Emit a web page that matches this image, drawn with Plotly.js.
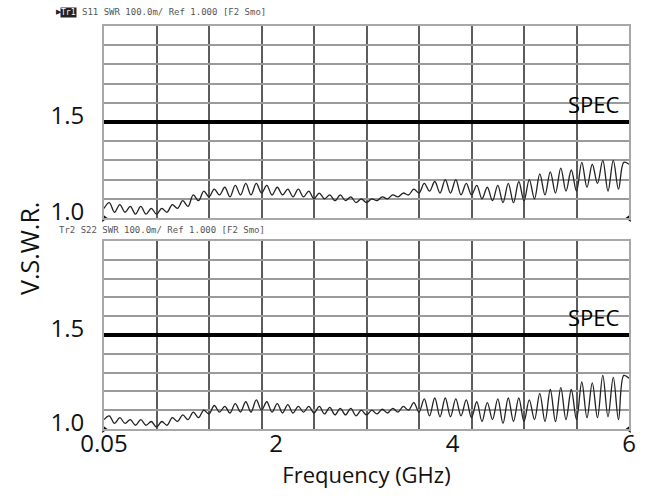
<!DOCTYPE html>
<html>
<head>
<meta charset="utf-8">
<script src="https://cdn.plot.ly/plotly-3.0.1.min.js"></script>
<style>html,body{margin:0;padding:0;background:#fff;}#chart{width:650px;height:500px;}</style>
</head>
<body>
<div id="chart"></div>
<script>
// Sweep frequencies (GHz) (0.05 - 6 GHz, 10 divisions)
const freqGHz = [0.050,0.110,0.169,0.229,0.288,0.348,0.407,0.467,0.526,0.586,
  0.645,0.705,0.764,0.824,0.883,0.943,1.002,1.062,1.121,1.181,
  1.240,1.300,1.359,1.419,1.478,1.538,1.597,1.657,1.716,1.776,
  1.835,1.895,1.954,2.014,2.073,2.133,2.192,2.252,2.311,2.371,
  2.430,2.490,2.549,2.609,2.668,2.728,2.787,2.847,2.906,2.966,
  3.025,3.085,3.144,3.204,3.263,3.323,3.382,3.442,3.501,3.561,
  3.620,3.680,3.739,3.799,3.858,3.918,3.977,4.037,4.096,4.156,
  4.215,4.275,4.334,4.394,4.453,4.513,4.572,4.632,4.691,4.751,
  4.810,4.870,4.929,4.989,5.048,5.108,5.167,5.227,5.286,5.346,
  5.405,5.465,5.524,5.584,5.643,5.703,5.762,5.822,5.881,5.941,6.000];

// S11 VSWR (upper trace)
const vswrS11 = [1.05,1.08,1.03,1.07,1.03,1.06,1.02,1.06,1.02,1.05,
  1.02,1.05,1.03,1.07,1.05,1.09,1.06,1.12,1.09,1.14,
  1.11,1.15,1.12,1.16,1.11,1.17,1.12,1.18,1.12,1.18,
  1.13,1.17,1.12,1.16,1.12,1.15,1.11,1.15,1.11,1.14,
  1.10,1.13,1.10,1.12,1.09,1.12,1.09,1.11,1.08,1.10,
  1.08,1.10,1.09,1.11,1.10,1.12,1.11,1.13,1.12,1.15,
  1.13,1.18,1.14,1.19,1.13,1.20,1.13,1.20,1.12,1.18,
  1.12,1.17,1.10,1.16,1.09,1.17,1.08,1.18,1.08,1.19,
  1.09,1.20,1.10,1.23,1.12,1.24,1.13,1.26,1.14,1.25,
  1.14,1.29,1.16,1.28,1.18,1.30,1.14,1.30,1.15,1.29,1.28];

// S22 VSWR (lower trace)
const vswrS22 = [1.05,1.07,1.03,1.06,1.03,1.05,1.02,1.05,1.02,1.04,
  1.01,1.04,1.02,1.06,1.04,1.075,1.05,1.09,1.06,1.10,
  1.08,1.125,1.09,1.12,1.085,1.135,1.09,1.145,1.09,1.155,
  1.10,1.145,1.09,1.135,1.085,1.13,1.085,1.12,1.09,1.12,
  1.085,1.12,1.08,1.115,1.075,1.11,1.075,1.11,1.07,1.10,
  1.075,1.10,1.08,1.105,1.085,1.11,1.09,1.12,1.10,1.14,
  1.09,1.16,1.07,1.165,1.065,1.165,1.065,1.16,1.07,1.155,
  1.06,1.145,1.04,1.14,1.05,1.16,1.03,1.165,1.04,1.165,
  1.04,1.155,1.05,1.19,1.04,1.21,1.04,1.22,1.05,1.21,
  1.05,1.25,1.06,1.245,1.06,1.285,1.065,1.275,1.05,1.285,1.27];

// Spec limit
const specFreq = [0.05, 6];
const specLimit = 1.5;

// Sweep start / stop reference markers (reference level 1.000)
const sweepMarkFreq = [0.05, 6];
const refLevel = 1.0;

// Axis labels
const xTickVals = [0.05, 2, 4, 6];
const xTickText = ['0.05', '2', '4', '6'];
const yTickVals = [1.0, 1.5];
const yTickText = ['1.0', '1.5'];
const header1 = 'S11 SWR 100.0m/ Ref 1.000 [F2 Smo]';
const header2 = 'Tr2 S22 SWR 100.0m/ Ref 1.000 [F2 Smo]';

const FONT = 'Open Sans, Noto Sans, sans-serif';
const traceStyle = {color: '#222', width: 1.3, shape: 'spline', smoothing: 1};
const specStyle = {color: '#000', width: 4};
const refMarker = {symbol: ['triangle-right', 'triangle-left'], size: 7, color: '#111'};

const data = [
  {x: freqGHz, y: vswrS11, xaxis: 'x', yaxis: 'y', mode: 'lines', line: traceStyle, hoverinfo: 'skip'},
  {x: specFreq, y: specFreq.map(() => specLimit), xaxis: 'x', yaxis: 'y', mode: 'lines', line: specStyle, cliponaxis: false},
  {x: sweepMarkFreq, y: sweepMarkFreq.map(() => refLevel), xaxis: 'x', yaxis: 'y', mode: 'markers', marker: refMarker, cliponaxis: false},
  {x: freqGHz, y: vswrS22, xaxis: 'x2', yaxis: 'y2', mode: 'lines', line: traceStyle, hoverinfo: 'skip'},
  {x: specFreq, y: specFreq.map(() => specLimit), xaxis: 'x2', yaxis: 'y2', mode: 'lines', line: specStyle, cliponaxis: false},
  {x: sweepMarkFreq, y: sweepMarkFreq.map(() => refLevel), xaxis: 'x2', yaxis: 'y2', mode: 'markers', marker: refMarker, cliponaxis: false}
];

const xMinor = {tickmode: 'linear', tick0: 0.05, dtick: 0.595, showgrid: true, gridcolor: '#5c5c5c', gridwidth: 2, ticks: ''};
const yMinor = {tickmode: 'linear', tick0: 1.0, dtick: 0.1, showgrid: true, gridcolor: '#9a9a9a', gridwidth: 2, ticks: ''};

function xAx(showLabels, anchor) {
  return {
    range: [0.05, 6], anchor: anchor, showgrid: false, zeroline: false,
    tickmode: 'array', tickvals: xTickVals, ticktext: xTickText,
    showticklabels: showLabels, ticks: '', ticklabelstandoff: -8,
    tickfont: {family: FONT, size: 24, color: '#111'},
    showline: true, mirror: true, linecolor: '#a8a8a8', linewidth: 2,
    minor: xMinor
  };
}
function yAx(domain, anchor) {
  return {
    range: [1.0, 2.0], domain: domain, anchor: anchor, showgrid: false, zeroline: false,
    tickmode: 'array', tickvals: yTickVals, ticktext: yTickText,
    ticks: '', ticklabelstandoff: 13, ticklabelshift: -6,
    tickfont: {family: FONT, size: 24, color: '#111'},
    showline: true, mirror: true, linecolor: '#a8a8a8', linewidth: 2,
    minor: yMinor
  };
}

const layout = {
  width: 650, height: 500,
  margin: {l: 104, r: 21, t: 26, b: 71},
  paper_bgcolor: '#fff', plot_bgcolor: '#fff',
  showlegend: false,
  xaxis: Object.assign(xAx(false, 'y'), {matches: 'x2'}),
  xaxis2: Object.assign(xAx(true, 'y2'), {
    title: {text: 'Frequency (GHz)', font: {family: FONT, size: 22, color: '#111'}, standoff: 2}
  }),
  yaxis: yAx([0.5236, 1], 'x'),
  yaxis2: yAx([0, 0.4665], 'x2'),
  annotations: [
    {xref: 'paper', yref: 'paper', x: -0.143, y: 0.449, xanchor: 'center', yanchor: 'middle',
     text: 'V.S.W.R.', textangle: -90,
     showarrow: false, font: {family: FONT, size: 25, color: '#111'}},
    {xref: 'x domain', yref: 'y', x: 0.987, y: specLimit, xanchor: 'right', yanchor: 'bottom', yshift: 1,
     text: 'SPEC', showarrow: false, font: {family: FONT, size: 22, color: '#000'}},
    {xref: 'x2 domain', yref: 'y2', x: 0.987, y: specLimit, xanchor: 'right', yanchor: 'bottom', yshift: 1,
     text: 'SPEC', showarrow: false, font: {family: FONT, size: 22, color: '#000'}},
    // instrument header lines
    {xref: 'paper', yref: 'paper', x: -0.096, y: 1.0, yshift: 14, xanchor: 'left', yanchor: 'middle',
     text: '▶', showarrow: false, font: {family: 'DejaVu Sans', size: 7, color: '#222'}},
    {xref: 'paper', yref: 'paper', x: -0.083, y: 1.0, yshift: 14, xanchor: 'left', yanchor: 'middle',
     text: 'Tr1', showarrow: false, bgcolor: '#222', borderpad: 0,
     font: {family: 'DejaVu Sans Mono', size: 8, color: '#fff'}},
    {xref: 'paper', yref: 'paper', x: -0.045, y: 1.0, yshift: 14, xanchor: 'left', yanchor: 'middle',
     text: header1, showarrow: false, font: {family: 'DejaVu Sans Mono', size: 9, color: '#555'}},
    {xref: 'paper', yref: 'paper', x: -0.09, y: 0.4665, yshift: 11, xanchor: 'left', yanchor: 'middle',
     text: header2, showarrow: false, font: {family: 'DejaVu Sans Mono', size: 9, color: '#555'}}
  ]
};

Plotly.newPlot('chart', data, layout, {staticPlot: true, displayModeBar: false});
</script>
</body>
</html>
